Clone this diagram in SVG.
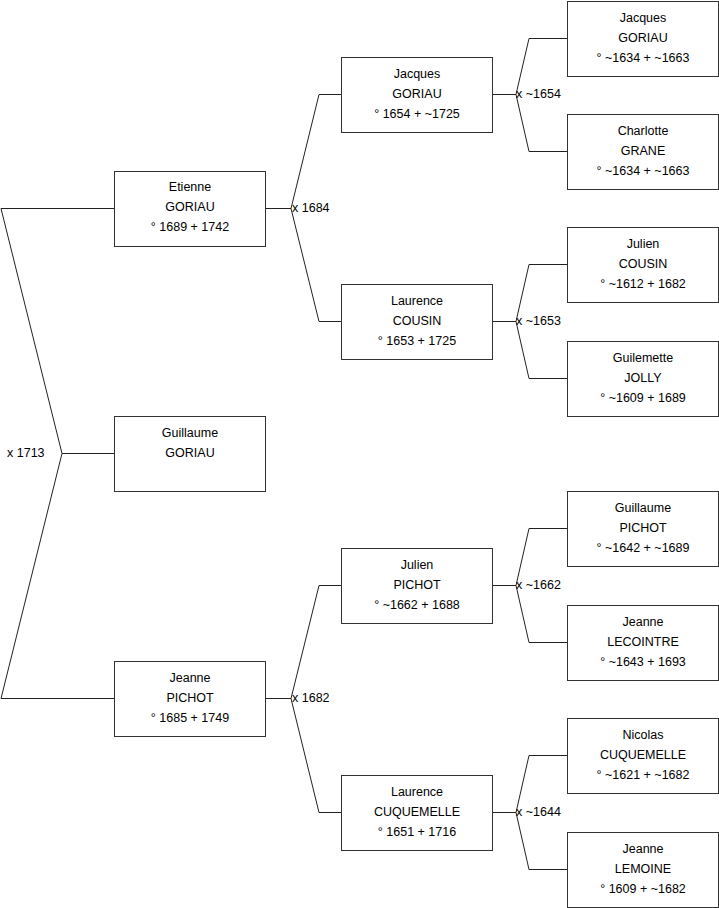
<svg xmlns="http://www.w3.org/2000/svg" width="719" height="908" viewBox="0 0 719 908">
<style>
.box{fill:#fff;stroke:#333;stroke-width:1}
.ln{fill:none;stroke:#222;stroke-width:1}
text{font-family:"Liberation Sans",Arial,sans-serif;font-size:12.5px;fill:#000}
.c{text-anchor:middle}
</style>
<rect width="719" height="908" fill="#fff"/>
<g id="connectors" class="ln">
<path d="M1 208.5H114.5M1 208.5L62 453.5L1 698.5H114.5M62 453.5H114.5"/>
<path d="M265.5 208.5H291M319 94.5L291 208.5L319 321.5M319 94.5H341.5M319 321.5H341.5"/>
<path d="M265.5 698.5H291M319 585.5L291 698.5L319 812.5M319 585.5H341.5M319 812.5H341.5"/>
<path d="M492.5 94.5H516M529 38.5L516 94.5L529 151.5M529 38.5H567.5M529 151.5H567.5"/>
<path d="M492.5 321.5H516M529 264.5L516 321.5L529 378.5M529 264.5H567.5M529 378.5H567.5"/>
<path d="M492.5 585.5H516M529 528.5L516 585.5L529 642.5M529 528.5H567.5M529 642.5H567.5"/>
<path d="M492.5 812.5H516M529 755.5L516 812.5L529 869.5M529 755.5H567.5M529 869.5H567.5"/>
</g>
<g id="labels">
<text x="7" y="457">x 1713</text>
<text x="292" y="212">x 1684</text>
<text x="292" y="702">x 1682</text>
<text x="516" y="98">x ~1654</text>
<text x="516" y="325">x ~1653</text>
<text x="516" y="589">x ~1662</text>
<text x="516" y="816">x ~1644</text>
</g>
<g id="etienne"><rect class="box" x="114.5" y="171.5" width="151" height="75"/><text class="c" x="190" y="191">Etienne</text><text class="c" x="190" y="211">GORIAU</text><text class="c" x="190" y="231">° 1689 + 1742</text></g>
<g id="guillaume"><rect class="box" x="114.5" y="416.5" width="151" height="75"/><text class="c" x="190" y="437">Guillaume</text><text class="c" x="190" y="457">GORIAU</text></g>
<g id="jeanne"><rect class="box" x="114.5" y="661.5" width="151" height="75"/><text class="c" x="190" y="682">Jeanne</text><text class="c" x="190" y="702">PICHOT</text><text class="c" x="190" y="722">° 1685 + 1749</text></g>
<g id="jacques"><rect class="box" x="341.5" y="57.5" width="151" height="75"/><text class="c" x="417" y="78">Jacques</text><text class="c" x="417" y="98">GORIAU</text><text class="c" x="417" y="118">° 1654 + ~1725</text></g>
<g id="laurence"><rect class="box" x="341.5" y="284.5" width="151" height="75"/><text class="c" x="417" y="305">Laurence</text><text class="c" x="417" y="325">COUSIN</text><text class="c" x="417" y="345">° 1653 + 1725</text></g>
<g id="julien"><rect class="box" x="341.5" y="548.5" width="151" height="75"/><text class="c" x="417" y="569">Julien</text><text class="c" x="417" y="589">PICHOT</text><text class="c" x="417" y="609">° ~1662 + 1688</text></g>
<g id="laurence-c"><rect class="box" x="341.5" y="775.5" width="151" height="75"/><text class="c" x="417" y="796">Laurence</text><text class="c" x="417" y="816">CUQUEMELLE</text><text class="c" x="417" y="836">° 1651 + 1716</text></g>
<g id="jacques-g"><rect class="box" x="567.5" y="1.5" width="151" height="75"/><text class="c" x="643" y="22">Jacques</text><text class="c" x="643" y="42">GORIAU</text><text class="c" x="643" y="62">° ~1634 + ~1663</text></g>
<g id="charlotte"><rect class="box" x="567.5" y="114.5" width="151" height="75"/><text class="c" x="643" y="135">Charlotte</text><text class="c" x="643" y="155">GRANE</text><text class="c" x="643" y="175">° ~1634 + ~1663</text></g>
<g id="julien-c"><rect class="box" x="567.5" y="227.5" width="151" height="75"/><text class="c" x="643" y="248">Julien</text><text class="c" x="643" y="268">COUSIN</text><text class="c" x="643" y="288">° ~1612 + 1682</text></g>
<g id="guilemette"><rect class="box" x="567.5" y="341.5" width="151" height="75"/><text class="c" x="643" y="362">Guilemette</text><text class="c" x="643" y="382">JOLLY</text><text class="c" x="643" y="402">° ~1609 + 1689</text></g>
<g id="guillaume-p"><rect class="box" x="567.5" y="491.5" width="151" height="75"/><text class="c" x="643" y="512">Guillaume</text><text class="c" x="643" y="532">PICHOT</text><text class="c" x="643" y="552">° ~1642 + ~1689</text></g>
<g id="jeanne-l"><rect class="box" x="567.5" y="605.5" width="151" height="75"/><text class="c" x="643" y="626">Jeanne</text><text class="c" x="643" y="646">LECOINTRE</text><text class="c" x="643" y="666">° ~1643 + 1693</text></g>
<g id="nicolas"><rect class="box" x="567.5" y="718.5" width="151" height="75"/><text class="c" x="643" y="739">Nicolas</text><text class="c" x="643" y="759">CUQUEMELLE</text><text class="c" x="643" y="779">° ~1621 + ~1682</text></g>
<g id="jeanne-lm"><rect class="box" x="567.5" y="832.5" width="151" height="75"/><text class="c" x="643" y="853">Jeanne</text><text class="c" x="643" y="873">LEMOINE</text><text class="c" x="643" y="893">° 1609 + ~1682</text></g>
</svg>
